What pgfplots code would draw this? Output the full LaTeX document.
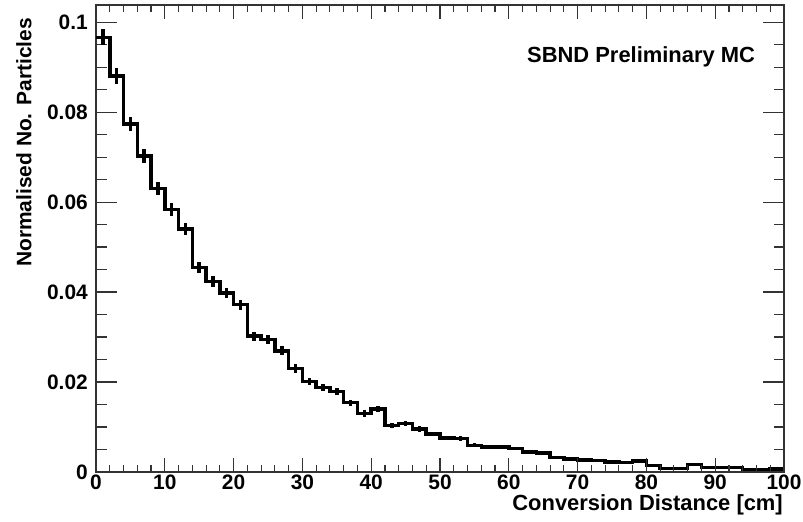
\documentclass[border=0pt]{standalone}
\usepackage{pgfplots}
\pgfplotsset{compat=1.18}
\usepackage{pgfplotstable}
\usepackage{fontspec}
\setmainfont{Liberation Sans}

\pgfplotstableread{
x y
0 0.0966
2 0.0880
4 0.0773
6 0.0702
8 0.0630
10 0.0583
12 0.0540
14 0.0454
16 0.0423
18 0.0398
20 0.0372
22 0.0302
24 0.0295
26 0.0269
28 0.0230
30 0.0201
32 0.0188
34 0.0179
36 0.0154
38 0.0130
40 0.0140
42 0.0103
44 0.0108
46 0.0096
48 0.0084
50 0.0076
52 0.0075
54 0.0059
56 0.0056
58 0.0056
60 0.0052
62 0.0045
64 0.0042
66 0.0032
68 0.0029
70 0.0027
72 0.0026
74 0.0022
76 0.0021
78 0.0024
80 0.0015
82 0.0008
84 0.0008
86 0.0017
88 0.0010
90 0.0010
92 0.0010
94 0.0006
96 0.0006
98 0.0007
100 0.0007
}\histdata

\pgfplotstableread{
x y e
1 0.0966 0.0018
3 0.0880 0.0017
5 0.0773 0.0016
7 0.0702 0.0015
9 0.0630 0.0015
11 0.0583 0.0014
13 0.0540 0.0013
15 0.0454 0.0012
17 0.0423 0.0012
19 0.0398 0.0012
21 0.0372 0.0011
23 0.0302 0.0010
25 0.0295 0.0010
27 0.0269 0.0010
29 0.0230 0.0009
31 0.0201 0.0008
33 0.0188 0.0008
35 0.0179 0.0008
37 0.0154 0.0007
39 0.0130 0.0007
41 0.0140 0.0007
43 0.0103 0.0006
45 0.0108 0.0006
47 0.0096 0.0006
49 0.0084 0.0005
51 0.0076 0.0005
53 0.0075 0.0005
55 0.0059 0.00045
57 0.0056 0.00043
59 0.0056 0.00043
61 0.0052 0.00042
63 0.0045 0.00039
65 0.0042 0.00038
67 0.0032 0.00033
69 0.0029 0.00031
71 0.0027 0.0003
73 0.0026 0.0003
75 0.0022 0.00027
77 0.0021 0.00027
79 0.0024 0.00028
81 0.0015 0.00022
83 0.0008 0.00016
85 0.0008 0.00016
87 0.0017 0.00024
89 0.0010 0.00018
91 0.0010 0.00018
93 0.0010 0.00018
95 0.0006 0.00014
97 0.0006 0.00014
99 0.0007 0.00015
}\errdata

\begin{document}
\begin{tikzpicture}
\pgfplotsset{rootframe/.style={
  scale only axis, width=688bp, height=467bp,
  xmin=0, xmax=100, ymin=0, ymax=0.1038,
  at={(0,0)}, anchor=south west,
  axis line style={line width=1.1bp, black!80},
  tick style={line width=1.1bp, black!80},
  tick align=inside,
  tick label style={font=\fontsize{21}{25}\selectfont\bfseries},
}}
\begin{axis}[rootframe,
  xtick=\empty,
  ytick={0,0.02,0.04,0.06,0.08,0.1},
  yticklabels={0,0.02,0.04,0.06,0.08,0.1},
  minor y tick num=3,
  major tick length=21bp, minor tick length=10.5bp,
  yticklabel style={inner sep=0pt, xshift=-8bp, anchor=east},
  scaled ticks=false,
]
\addplot[black, line width=3.5bp, line join=miter, const plot mark left, mark=none]
  table[x=x, y=y] {\histdata};
\addplot[draw=none, mark=none,
  error bars/.cd, y dir=both, y explicit, error mark=none,
  error bar style={draw=black, solid, line width=3.5bp}]
  table[x=x, y=y, y error=e] {\errdata};
\end{axis}
\begin{axis}[rootframe, hide y axis,
  xtick={0,10,20,30,40,50,60,70,80,90,100},
  xticklabels={0,10,20,30,40,50,60,70,80,90,100},
  minor x tick num=4,
  major tick length=14bp, minor tick length=7bp,
  xticklabel style={inner sep=0pt, yshift=-3bp, anchor=north},
]
\end{axis}
\node[anchor=base west, inner sep=0pt, font=\fontsize{22}{26}\selectfont\bfseries] at (431bp,409bp) {SBND Preliminary MC};
\node[anchor=base east, inner sep=0pt, font=\fontsize{22}{26}\selectfont\bfseries] at (687bp,-38.5bp) {Conversion Distance [cm]};
\node[rotate=90, anchor=east, inner sep=0pt, font=\fontsize{21}{25}\selectfont\bfseries] at (-72bp,454bp) {Normalised No. Particles};
\pgfresetboundingbox
\path[use as bounding box] (-96bp,-50bp) rectangle (707bp,472bp);
\end{tikzpicture}
\end{document}
